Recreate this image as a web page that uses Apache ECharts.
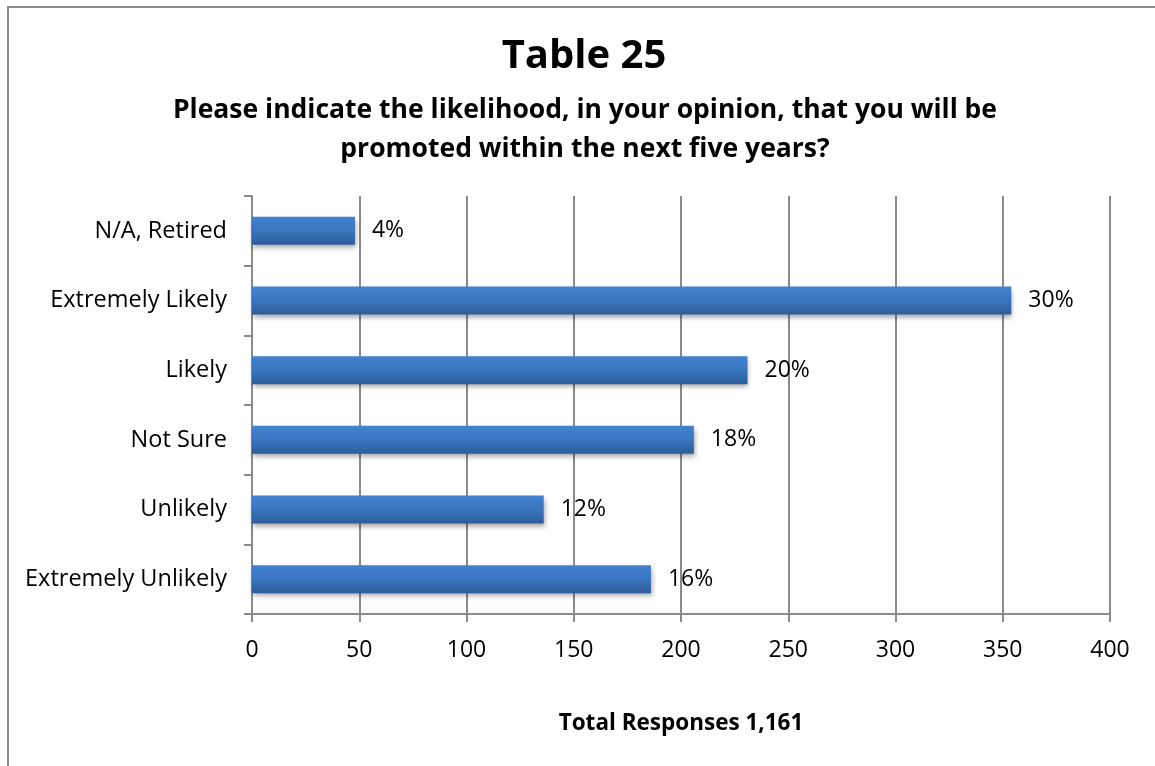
<!DOCTYPE html>
<html>
<head>
<meta charset="utf-8">
<script src="https://cdn.jsdelivr.net/npm/echarts@6/dist/echarts.min.js"></script>
<style>
  html, body { margin: 0; padding: 0; background: #fff; }
  #chart { width: 1155px; height: 766px; }
</style>
</head>
<body>
<div id="chart"></div>
<script>
// Survey answers, listed bottom-to-top as they appear on the category axis
const categories = ['Extremely Unlikely', 'Unlikely', 'Not Sure', 'Likely', 'Extremely Likely', 'N/A, Retired'];
const responses = [186, 136, 206, 231, 354, 48];
const totalResponses = 1161;
const xTicks = [0, 50, 100, 150, 200, 250, 300, 350, 400];

const FONT = '"Open Sans", Lato, sans-serif';
const GRID = { left: 252, right: 45, top: 196, bottom: 152 };
const gridCenterX = GRID.left + (1155 - GRID.left - GRID.right) / 2;

const chart = echarts.init(document.getElementById('chart'), null, { renderer: 'canvas' });

chart.setOption({
  animation: false,
  backgroundColor: '#ffffff',
  graphic: [{
    type: 'polyline',
    shape: { points: [[8, 766], [8, 7], [1155, 7]] },
    style: { stroke: '#8a8a8a', lineWidth: 2, fill: null }
  }],
  title: [
    {
      text: 'Table 25',
      left: 579, top: 32, textAlign: 'center',
      textStyle: { fontFamily: FONT, fontSize: 40, fontWeight: 'bold', color: '#000' }
    },
    {
      text: 'Please indicate the likelihood, in your opinion, that you will be\npromoted within the next five years?',
      left: 580, top: 86, textAlign: 'center',
      textStyle: { fontFamily: FONT, fontSize: 26.5, fontWeight: 'bold', color: '#000', lineHeight: 39 }
    },
    {
      text: 'Total Responses 1,161',
      left: gridCenterX - 5, top: 707, textAlign: 'center',
      textStyle: { fontFamily: FONT, fontSize: 22.5, fontWeight: 'bold', color: '#000' }
    }
  ],
  grid: GRID,
  xAxis: {
    type: 'value',
    min: xTicks[0],
    max: xTicks[xTicks.length - 1],
    interval: xTicks[1] - xTicks[0],
    axisLine: { show: true, lineStyle: { color: '#8a8a8a', width: 2 } },
    axisTick: { show: true, length: 8, lineStyle: { color: '#8a8a8a', width: 2 } },
    splitLine: { show: true, lineStyle: { color: '#8a8a8a', width: 2 } },
    axisLabel: { margin: 25, fontFamily: FONT, fontSize: 23, color: '#000' }
  },
  yAxis: {
    type: 'category',
    data: categories,
    axisLine: { show: true, lineStyle: { color: '#8a8a8a', width: 2 } },
    axisTick: { show: true, length: 8, alignWithLabel: false, lineStyle: { color: '#8a8a8a', width: 2 } },
    axisLabel: { margin: 25, fontFamily: FONT, fontSize: 23.5, color: '#000' }
  },
  series: [{
    type: 'bar',
    data: responses,
    barWidth: 28,
    itemStyle: {
      color: new echarts.graphic.LinearGradient(0, 0, 0, 1, [
        { offset: 0, color: '#4282cf' },
        { offset: 0.5, color: '#3a75bf' },
        { offset: 1, color: '#2c5c99' }
      ]),
      shadowColor: 'rgba(0,0,0,0.35)',
      shadowBlur: 5,
      shadowOffsetY: 3,
      shadowOffsetX: 1
    },
    label: {
      show: true,
      position: 'right',
      distance: 17,
      fontFamily: FONT,
      fontSize: 23,
      color: '#000',
      formatter: p => Math.round(p.value / totalResponses * 100) + '%'
    }
  }]
});
</script>
</body>
</html>
